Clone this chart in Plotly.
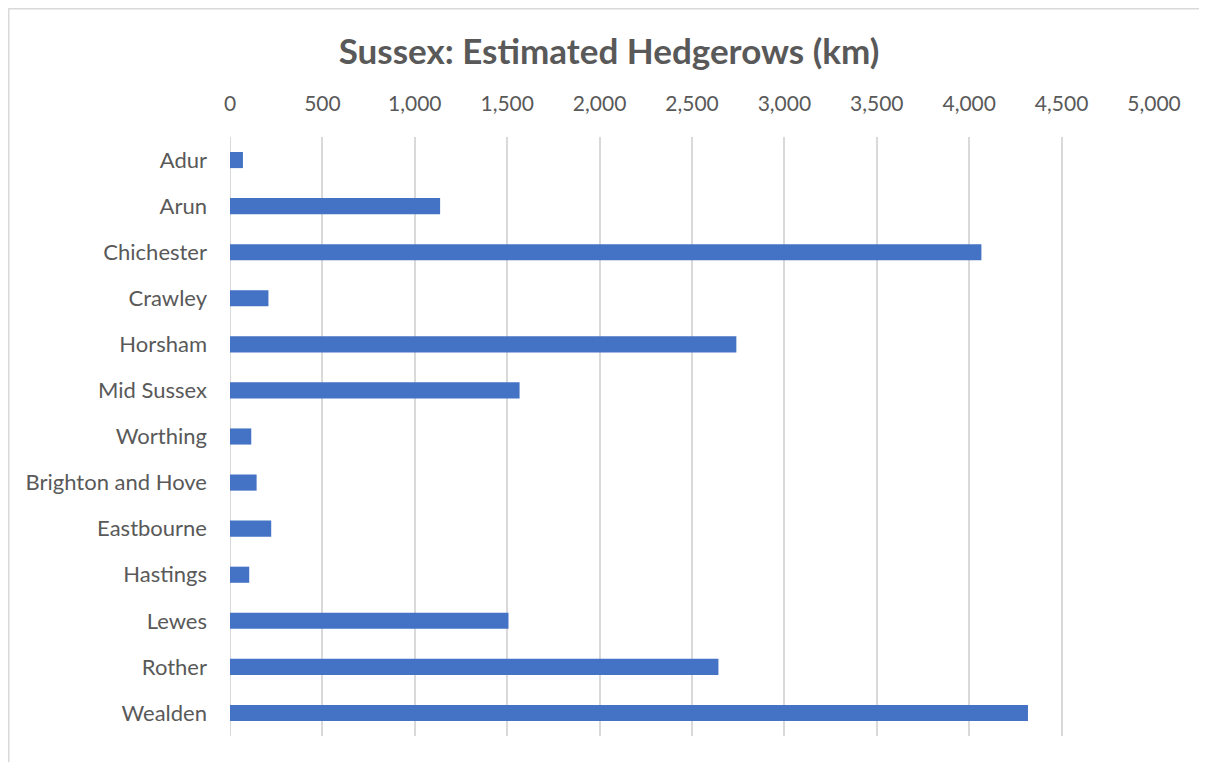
import plotly.graph_objects as go

categories = ["Adur", "Arun", "Chichester", "Crawley", "Horsham", "Mid Sussex",
              "Worthing", "Brighton and Hove", "Eastbourne", "Hastings", "Lewes",
              "Rother", "Wealden"]
hedgerows_km = [70, 1137, 4066, 208, 2740, 1567, 115, 144, 223, 104, 1507, 2643, 4318]
x_ticks = [0, 500, 1000, 1500, 2000, 2500, 3000, 3500, 4000, 4500, 5000]

# page has an 8px body margin, so the figure is drawn 8px in from the corner
OFF = 8
W, H = 1207 - OFF, 762 - OFF
L, T = 230 - OFF, 137 - OFF
R = 1207 - 1154
B = 762 - 736
pw, ph = W - L - R, H - T - B

fig = go.Figure(go.Bar(
    x=hedgerows_km, y=categories, orientation="h",
    marker=dict(color="#4472C4", line=dict(width=0)),
    hoverinfo="x+y",
))

fig.update_layout(
    width=W, height=H,
    margin=dict(l=L, r=R, t=T, b=B),
    paper_bgcolor="white", plot_bgcolor="white",
    font=dict(family="Lato, 'Open Sans', sans-serif", color="#595959", size=22),
    bargap=0.65,
    showlegend=False,
    title=dict(text="<b>Sussex: Estimated Hedgerows (km)</b>",
               x=(609 - OFF) / W, xanchor="center", xref="container",
               y=1 - (52 - OFF) / H, yanchor="middle", yref="container",
               font=dict(size=35, color="#595959")),
    xaxis=dict(side="top", range=[0, 5000], tickvals=x_ticks,
               tickformat=",d", showgrid=True, gridcolor="#d9d9d9", gridwidth=2,
               zeroline=False, showline=False, ticks="",
               ticklabelstandoff=21, tickfont=dict(size=21, color="#595959")),
    yaxis=dict(autorange="reversed", showgrid=False, zeroline=False,
               showline=False, ticks="", ticklabelstandoff=22,
               tickfont=dict(size=22, color="#595959")),
)

# chart-area frame (left and top edges)
fx = (0 - L) / pw
fy = (H - 0 - B) / ph
fig.add_shape(type="line", xref="paper", yref="paper",
              x0=fx, x1=fx, y0=fy, y1=(-B) / ph,
              line=dict(color="#d9d9d9", width=3))
fig.add_shape(type="line", xref="paper", yref="paper",
              x0=fx, x1=(W - L) / pw, y0=fy, y1=fy,
              line=dict(color="#d9d9d9", width=3))
# zero gridline
fig.add_shape(type="line", xref="x", yref="paper", x0=0, x1=0, y0=0, y1=1,
              line=dict(color="#d9d9d9", width=2), layer="below")

fig.write_html("out.html")
